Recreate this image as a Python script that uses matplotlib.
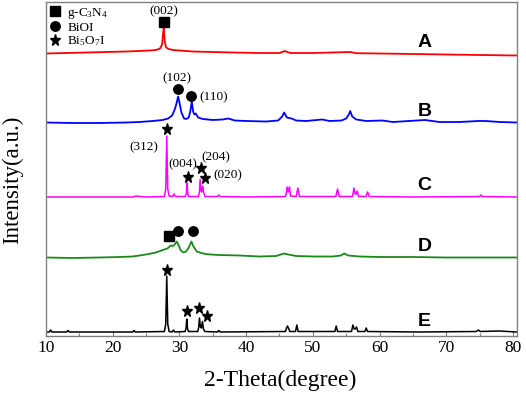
import matplotlib
matplotlib.use("Agg")
import matplotlib.pyplot as plt
from matplotlib.ticker import MultipleLocator
from matplotlib.lines import Line2D

plt.rcParams['font.family'] = ['Liberation Serif', 'DejaVu Serif']
plt.rcParams['mathtext.fontset'] = 'custom'
plt.rcParams['mathtext.rm'] = 'Liberation Serif'
plt.rcParams['mathtext.it'] = 'Liberation Serif:italic'

# ---------------- data (2-theta, relative intensity) ----------------
sample_names = ["A", "B", "C", "D", "E"]
sample_offsets = [282.5, 213.5, 139, 78.5, 4]
sample_colors = ["#ff0000", "#0000ff", "#ff00ff", "#1a8a1a", "#000000"]
sample_widths = [1.3, 1.3, 1.1, 1.3, 1.1]

A_pts = [(10, 0), (13, 0.5), (16, 1), (19, 1.5), (22, 2), (24, 2.5), (25.5, 3), (26.5, 3.5),
         (27.1, 5), (27.4, 9), (27.55, 20), (27.65, 26.5), (27.8, 12), (28.0, 6), (28.4, 4.5),
         (29, 3.5), (30, 3), (32, 2), (35, 1.5), (38, 1), (42, 0.5), (45, 0.5), (45.8, 2.5),
         (46.6, 0.5), (50, 0.5), (55.6, 1.5), (56.5, 0.3), (60, 0), (65, -0.5), (70, -1),
         (75, -1.5), (80.6, -2)]

B_pts = [(10, 0), (14, -0.5), (18, -0.5), (22, 0), (24, 0.5), (26, 1.5), (27.5, 2.5), (28.3, 4),
         (28.9, 7), (29.3, 13), (29.6, 20), (29.8, 26), (30.0, 20), (30.3, 10), (30.7, 4),
         (31.0, 3.5), (31.4, 5), (31.65, 12), (31.85, 21), (32.05, 11), (32.25, 8), (32.45, 9),
         (32.8, 5), (33.5, 3.5), (35, 2.5), (36.5, 3), (37.3, 4), (38.3, 2), (40, 1.5), (43, 1),
         (44.8, 2), (45.4, 6), (45.7, 10), (46.1, 5), (46.8, 4), (47.5, 2), (49, 1.5), (51.4, 3),
         (52.5, 1.5), (54.3, 2), (55.0, 4), (55.4, 8), (55.6, 11.5), (55.9, 6), (56.5, 3),
         (58, 1.5), (60.4, 2), (62, 0.5), (66.8, 2.5), (69, 0.5), (72, 0.5), (74.8, 1.5),
         (75.9, 1.5), (78, 0.5), (80.6, 0)]

C_pts = [(10, 0), (15, 0), (20, 0), (23.2, 0), (23.4, 1), (25, 0), (27.75, 0.5), (27.95, 8),
         (28.1, 61), (28.25, 8), (28.45, 1), (29.0, 0.5), (29.2, 3), (29.4, 0.5), (30.9, 0.5),
         (31.05, 4), (31.15, 14), (31.25, 4), (31.4, 0.5), (32.85, 0.5), (33.0, 5), (33.1, 17.5),
         (33.25, 6), (33.35, 5), (33.5, 11), (33.65, 4), (33.85, 0.5), (35.7, 0.5), (35.9, 2),
         (36.1, 0.5), (40, 0), (45.9, 0.5), (46.05, 5), (46.15, 10), (46.3, 5), (46.4, 6),
         (46.5, 10), (46.65, 1), (47.5, 0.5), (47.75, 9), (48.0, 0.5), (53.45, 0.5), (53.7, 8),
         (53.95, 0.5), (55.9, 0.5), (56.05, 4), (56.15, 9), (56.35, 3), (56.5, 3), (56.65, 6),
         (56.85, 0.5), (57.95, 0.5), (58.2, 5), (58.45, 0.5), (65, 0), (75.0, 0.5), (75.2, 2),
         (75.4, 0.5), (80.6, 0)]

D_pts = [(10, 0), (14, -0.5), (18, 0), (21, 0.5), (23, 1), (25, 3), (26.5, 5), (27.5, 7.5),
         (28.2, 9), (28.7, 12), (29.0, 11.5), (29.3, 13), (29.6, 16), (29.9, 12), (30.2, 7),
         (30.6, 5), (31.0, 6), (31.4, 10), (31.8, 16), (32.1, 11), (32.6, 6), (33.5, 4),
         (34.6, 3), (36, 2.5), (39, 2), (42, 1), (44.5, 1.5), (45.2, 3), (45.7, 4), (46.3, 3),
         (47.5, 1.5), (50, 1), (53, 1), (54.2, 2), (54.7, 4), (55.3, 2), (57, 1), (60, 0.5),
         (65, 0.5), (70, 0), (75, 0), (80.6, 0)]

E_pts = [(10, 0), (10.5, 0), (10.7, 2), (10.9, 0), (13.1, 0), (13.3, 1.5), (13.5, 0), (23.0, 0),
         (23.2, 1.5), (23.4, 0), (27.75, 0.5), (27.95, 8), (28.1, 56), (28.25, 8), (28.45, 0.5),
         (28.9, 0), (29.1, 2), (29.3, 0), (30.85, 0.5), (31.0, 4), (31.1, 13), (31.2, 4),
         (31.35, 0.5), (32.75, 0.5), (32.9, 5), (33.0, 14), (33.15, 5), (33.3, 4), (33.45, 10.5),
         (33.6, 3), (33.8, 0.5), (35.7, 0), (35.9, 1.5), (36.1, 0), (45.9, 0.5), (46.05, 4),
         (46.2, 6), (46.4, 3), (46.55, 0.5), (47.4, 0.5), (47.6, 7), (47.8, 0.5), (53.3, 0.5),
         (53.5, 6), (53.7, 0.5), (55.8, 0.5), (56.0, 7), (56.2, 3), (56.35, 3), (56.55, 5),
         (56.75, 0.5), (57.8, 0.5), (58.0, 4), (58.2, 0.5), (66, 0), (74.5, 0.5), (74.8, 2),
         (75.1, 0.5), (77.9, 1), (80.6, 0)]

sample_curves = [A_pts, B_pts, C_pts, D_pts, E_pts]

# phase markers: (2-theta, height above baseline of its pattern, pattern index)
marker_square = [(27.64, 31.5, 0), (28.44, 21.8, 3)]
marker_circle = [(29.74, 33.8, 1), (31.74, 26.8, 1), (29.74, 26.5, 3), (31.99, 26.5, 3)]
marker_star = [(28.09, 67.7, 2), (31.24, 20.3, 2), (33.24, 28.7, 2), (33.88, 18.7, 2),
               (28.18, 62, 4), (31.18, 21.3, 4), (32.93, 24.3, 4), (34.09, 16, 4)]

# hkl labels: (text, 2-theta, height above baseline, pattern index)
hkl_labels = [("(002)", 27.69, 42, 0), ("(102)", 29.6, 44.2, 1), ("(110)", 35.18, 25.2, 1),
              ("(312)", 24.69, 50, 2), ("(004)", 30.54, 33, 2), ("(204)", 35.48, 40, 2),
              ("(020)", 37.28, 21.3, 2)]

legend_labels = ["g-C$_3$N$_4$", "BiOI", "Bi$_5$O$_7$I"]

# ---------------- figure ----------------
W, H = 526, 395
fig = plt.figure(figsize=(W / 100, H / 100), dpi=100)
ax = fig.add_axes([46 / W, (H - 336) / H, (517 - 46) / W, (336 - 2) / H])

for pts, off, col, lw in zip(sample_curves, sample_offsets, sample_colors, sample_widths):
    xs = [p[0] for p in pts]
    ys = [p[1] + off for p in pts]
    ax.plot(xs, ys, color=col, lw=lw, solid_joinstyle='round')

SQ, CI, ST = 6.5, 6.8, 8.3
for x, h, i in marker_square:
    ax.plot(x, sample_offsets[i] + h, marker='s', ms=SQ, color='black', ls='none')
for x, h, i in marker_circle:
    ax.plot(x, sample_offsets[i] + h, marker='o', ms=CI, color='black', ls='none')
for x, h, i in marker_star:
    ax.plot(x, sample_offsets[i] + h, marker='*', ms=ST, color='black', ls='none')

for txt, x, h, i in hkl_labels:
    ax.text(x, sample_offsets[i] + h, txt, fontsize=9.5, ha='center', va='center')

for name, off in zip(sample_names, sample_offsets):
    ax.text(66.7, off + 11, name, fontsize=14, fontweight='bold',
            family='Liberation Sans', ha='center', va='center')

handles = [Line2D([], [], marker='s', ms=SQ, color='black', ls='none'),
           Line2D([], [], marker='o', ms=CI, color='black', ls='none'),
           Line2D([], [], marker='*', ms=ST, color='black', ls='none')]
ax.legend(handles, legend_labels, loc='upper left', frameon=False, fontsize=9.5,
          handlelength=0.8, handletextpad=0.5, labelspacing=0.05, borderaxespad=0.15,
          borderpad=0.15)

ax.set_xlim(10, 80.6)
ax.set_ylim(0, 334)
ax.xaxis.set_major_locator(MultipleLocator(10))
ax.xaxis.set_minor_locator(MultipleLocator(5))
ax.set_yticks([])
ax.tick_params(axis='x', which='major', direction='in', length=3.5, width=0.8,
               color='#808080', labelsize=12.5, pad=3)
ax.tick_params(axis='x', which='minor', direction='in', length=2, width=0.8, color='#808080')
for s in ax.spines.values():
    s.set_color('#808080')
    s.set_linewidth(1.0)

fig.text(13 / W, 1 - 180 / H, "Intensity(a.u.)", rotation=90, fontsize=16.5,
         ha='center', va='center')
fig.text(280 / W, 1 - 380 / H, "2-Theta(degree)", fontsize=17, ha='center', va='center')

fig.savefig("out.png", dpi=100)
